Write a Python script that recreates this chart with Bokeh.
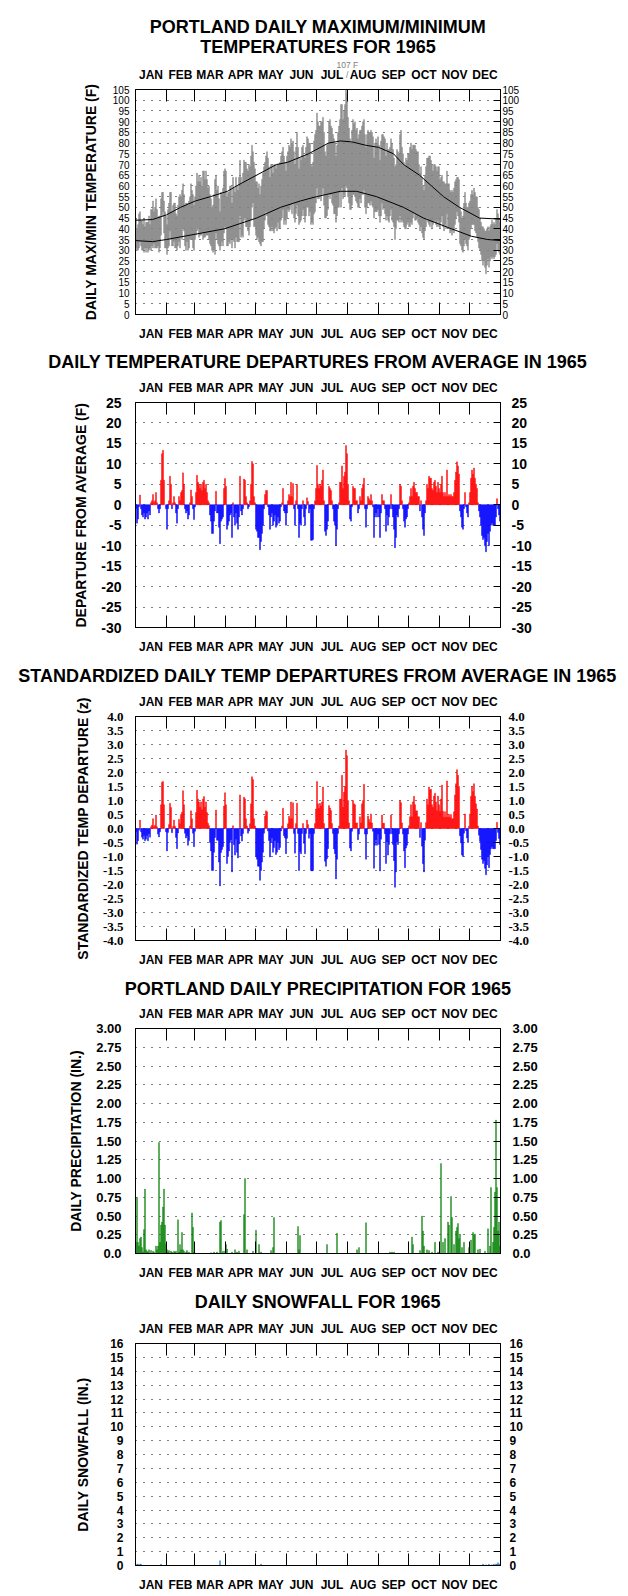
import numpy as np
from bokeh.plotting import figure
from bokeh.models import FixedTicker, LinearAxis, Range1d, ColumnDataSource, Grid, Title
from bokeh.layouts import column
from bokeh.embed import file_html
from bokeh.resources import INLINE

# ---------------- data ----------------
MONTHS = ["JAN", "FEB", "MAR", "APR", "MAY", "JUN", "JUL", "AUG", "SEP", "OCT", "NOV", "DEC"]
MONTH_LENGTHS = [31, 28, 31, 30, 31, 30, 31, 31, 30, 31, 30, 31]

TMAX_JAN = [45, 40, 42, 47, 48, 44, 44, 42, 45, 41, 43, 43, 43, 46, 42, 49, 49, 53, 48, 50, 54, 49, 45, 46, 46, 54, 57, 57, 53, 48, 46]
TMAX_FEB = [42, 49, 52, 57, 57, 48, 51, 52, 52, 47, 46, 51, 55, 56, 55, 58, 61, 56, 51, 52, 52, 51, 53, 55, 61, 58, 56, 51]
TMAX_MAR = [55, 60, 66, 62, 65, 62, 64, 60, 67, 67, 63, 67, 63, 59, 60, 56, 54, 50, 51, 56, 63, 65, 58, 60, 54, 48, 57, 56, 59, 67, 68]
TMAX_APR = [67, 55, 57, 57, 60, 60, 52, 64, 59, 57, 64, 60, 58, 64, 72, 64, 61, 66, 72, 71, 71, 68, 67, 70, 69, 74, 79, 76, 71, 68]
TMAX_MAY = [62, 62, 59, 61, 56, 60, 63, 66, 69, 71, 74, 76, 73, 69, 64, 70, 70, 66, 70, 70, 68, 70, 70, 70, 71, 74, 76, 78, 74, 71, 67]
TMAX_JUN = [74, 76, 79, 78, 82, 80, 81, 76, 70, 78, 85, 78, 68, 73, 72, 78, 79, 74, 73, 78, 83, 82, 80, 80, 70, 69, 71, 81, 84, 86]
TMAX_JUL = [94, 90, 88, 88, 90, 90, 92, 85, 76, 74, 79, 80, 90, 91, 88, 87, 84, 82, 80, 74, 79, 85, 88, 91, 98, 98, 91, 95, 98, 107, 103]
TMAX_AUG = [92, 87, 82, 80, 86, 91, 89, 90, 86, 87, 82, 84, 86, 86, 88, 90, 91, 84, 78, 84, 86, 85, 85, 86, 85, 83, 73, 80, 82, 80, 83]
TMAX_SEP = [79, 72, 81, 84, 84, 83, 82, 74, 80, 77, 77, 78, 82, 80, 77, 73, 69, 70, 77, 76, 75, 84, 86, 78, 75, 71, 69, 73, 72, 75]
TMAX_OCT = [75, 78, 80, 77, 79, 79, 79, 77, 76, 76, 70, 66, 69, 64, 60, 58, 65, 69, 73, 73, 74, 74, 72, 70, 67, 70, 70, 69, 67, 69, 69]
TMAX_NOV = [63, 64, 65, 62, 62, 61, 61, 67, 61, 61, 58, 57, 58, 57, 59, 62, 63, 64, 64, 63, 50, 48, 45, 46, 52, 57, 52, 50, 50, 52]
TMAX_DEC = [53, 56, 58, 56, 59, 57, 55, 55, 50, 49, 45, 43, 41, 41, 40, 39, 39, 40, 41, 39, 41, 42, 44, 42, 43, 42, 45, 49, 47, 45, 43]

TMIN_JAN = [31, 30, 30, 31, 34, 32, 30, 30, 29, 31, 29, 31, 29, 30, 31, 30, 32, 31, 33, 31, 31, 31, 32, 29, 31, 37, 46, 48, 38, 31, 31]
TMIN_FEB = [28, 31, 32, 39, 35, 32, 32, 34, 31, 31, 30, 32, 34, 31, 36, 35, 40, 39, 32, 30, 34, 30, 31, 35, 35, 35, 31, 30]
TMIN_MAR = [35, 37, 39, 40, 36, 37, 37, 38, 35, 36, 36, 37, 37, 37, 35, 33, 32, 30, 29, 30, 28, 38, 35, 33, 32, 30, 32, 34, 32, 38, 41]
TMIN_APR = [40, 32, 32, 34, 33, 35, 31, 35, 34, 31, 36, 34, 34, 34, 46, 36, 37, 36, 44, 45, 41, 41, 39, 37, 41, 44, 50, 52, 41, 41]
TMIN_MAY = [37, 35, 36, 34, 33, 32, 34, 34, 40, 44, 48, 46, 42, 41, 39, 39, 41, 39, 38, 40, 41, 39, 43, 40, 40, 44, 45, 49, 42, 44, 42]
TMIN_JUN = [45, 49, 48, 49, 51, 47, 52, 45, 43, 47, 51, 46, 42, 43, 44, 46, 49, 46, 43, 46, 50, 50, 46, 48, 42, 43, 42, 47, 48, 52]
TMIN_JUL = [59, 54, 54, 56, 53, 56, 59, 51, 45, 45, 46, 49, 56, 54, 56, 52, 51, 47, 47, 43, 46, 50, 50, 57, 50, 59, 54, 56, 55, 60, 59]
TMIN_AUG = [55, 52, 49, 49, 51, 56, 56, 55, 53, 52, 50, 50, 54, 52, 56, 56, 58, 50, 47, 50, 52, 52, 51, 53, 51, 50, 45, 48, 48, 48, 49]
TMIN_SEP = [46, 43, 46, 52, 49, 50, 47, 44, 46, 44, 43, 46, 49, 44, 43, 41, 35, 40, 44, 44, 43, 46, 43, 44, 43, 41, 40, 40, 42, 43]
TMIN_OCT = [41, 41, 43, 42, 45, 47, 44, 44, 45, 43, 42, 39, 41, 38, 36, 35, 39, 41, 45, 43, 42, 41, 43, 40, 42, 43, 44, 42, 41, 44, 41]
TMIN_NOV = [40, 43, 46, 41, 39, 42, 40, 47, 40, 41, 38, 39, 37, 39, 38, 42, 45, 48, 46, 43, 33, 32, 30, 29, 32, 35, 33, 32, 30, 35]
TMIN_DEC = [36, 40, 42, 42, 42, 39, 38, 36, 34, 31, 30, 28, 25, 23, 25, 22, 19, 23, 26, 22, 25, 27, 26, 27, 26, 27, 28, 33, 30, 29, 28]

NORMAL_MAX_DAYS = [0, 17, 31, 45, 60, 75, 92, 101, 121, 141, 152, 173, 193, 205, 217, 230, 243, 258, 268, 284, 296, 308, 324, 344, 365]
NORMAL_MAX = [44, 44.3, 46.5, 50, 53, 55, 57.5, 60, 65, 70, 71, 75, 80, 81, 80.5, 79, 78, 75, 70, 65, 60, 55, 50, 45, 44.5]
NORMAL_MIN_DAYS = [0, 17, 31, 60, 89, 121, 145, 165, 181, 205, 221, 241, 268, 288, 316, 336, 352, 365]
NORMAL_MIN = [34.5, 34, 35, 37.5, 40, 45, 50, 53, 55, 57.5, 57.5, 55, 50, 45, 40, 36.5, 35, 34.5]

DEP_JAN = [-1, -4.5, -3.5, -0.5, 2.4, -1, -2.5, -3, -2, -3.5, -3, -2, -3.5, -1.5, -2.5, 0.5, 1, 2.5, 0.5, 1, 3, 0.5, -1, -2, -1, 6, 12.5, 13.3, 6, 0, -1]
DEP_FEB = [-6, -1, 1, 7, 5, -1, 0.5, 2, 0.5, -2, -4.5, -1, 2, 1, 3, 3.5, 7.8, 5, -1, -2, -1.5, -3.5, -2.5, 0.5, 3.6, 2, -1, -3.6]
DEP_MAR = [-0.5, 3, 7.2, 5.5, 5, 4, 5, 3.5, 5.5, 6, 4, 5, 3, 1, 0.5, -2.5, -4, -7, -7, -4, -1.5, 3.3, -2, -2, -5.5, -9.5, -4, -3.5, -3, 4, 6.4]
DEP_APR = [4.5, -6, -5, -4, -2.5, -2, -8, 0.5, -3, -5, -2, -4.5, -6, -3, 7, -1.5, -2.5, -1, 6.3, 6, 2, 0.5, -1, -0.5, 1, 5, 10.6, 10, 2, 0.5]
DEP_MAY = [-6, -6.5, -8, -8, -11, -9, -7, -5, -1, 2.5, 3.5, 3.5, -0.5, -2.5, -6, -3, -2, -5, -4, -2.5, -5.5, -5, -3, -4.5, -4, -0.5, 0.5, 4, -1.5, -2, -5]
DEP_JUN = [-2, 1, 2.5, 2, 5.5, 2, 5.2, -1, -5, 1, 5, -1, -8, -4.6, -5, -1, 1, -3, -5, -1, 1.7, 0.8, -2, -1, -8.7, -8.7, -8.5, -1, 1, 4]
DEP_JUL = [9.6, 5, 4, 5, 4.5, 6, 8.5, 1, -6.5, -7.5, -6, -4, 4.5, 4, 3.5, 1, -1, -4, -5, -10, -6, -1, 0.5, 5.5, 5.5, 9.5, 4, 7, 8, 14.5, 12.5]
DEP_AUG = [5, 1, -3.5, -4, -0.5, 4.5, 4, 4, 1, 1, -2, -1, 2, 1, 4, 5, 6.5, -1, -5.5, -1, 2, 1.5, 1, 2.5, 1, -0.5, -8, -3, -2, -3, -1]
DEP_SEP = [-3, -8, -2, 2.5, 1, 1, -1, -6.5, -2.5, -5, -3, -1, 2.5, -1, -3, -6, -10.5, -8, -2.5, -3, -1, 5, 4.5, 1, -1, -4, -5.5, -3.5, -3, -1]
DEP_OCT = [0.5, 2, 4, 2, 4.5, 5.5, 4, 3, 3, 2, 2, -1.5, 1, -3, -6, -7.5, -2, 1, 5, 4, 7, 6.5, 6.5, 4, 3.5, 5.5, 6, 4.5, 3, 5.5, 4]
DEP_NOV = [3, 5, 7, 3, 2, 3, 2, 8.5, 2, 2.5, 2, 2.5, 2, 2, 3, 6, 8, 10.5, 9.5, 7.5, -1.5, -3, -5.5, -6, -1, 3, -0.5, -2, -3, 0.5]
DEP_DEC = [3, 6.5, 8.5, 7.5, 9, 6.5, 5, 4, 0.5, -1.5, -3, -5, -7.5, -8.5, -8, -10, -11.5, -9, -7, -10, -6.5, -5, -4.5, -5, -5, -5, -3, 1.5, -1, -2.5, -4]

Z_JAN = [-0.12, -0.56, -0.44, -0.06, 0.3, -0.12, -0.31, -0.38, -0.25, -0.44, -0.38, -0.25, -0.44, -0.19, -0.31, 0.06, 0.12, 0.35, 0.06, 0.12, 0.48, 0.06, -0.2, -0.3, -0.12, 0.85, 1.65, 1.68, 0.85, 0, -0.12]
Z_FEB = [-0.8, -0.14, 0.14, 0.9, 0.75, -0.15, 0.07, 0.3, 0.08, -0.32, -0.72, -0.16, 0.33, 0.17, 0.5, 0.58, 1.35, 0.85, -0.17, -0.34, -0.26, -0.6, -0.43, 0.09, 0.63, 0.35, -0.17, -0.65]
Z_MAR = [-0.1, 0.57, 1.37, 1.05, 0.95, 0.76, 0.95, 0.67, 1.05, 1.14, 0.76, 0.95, 0.57, 0.19, 0.1, -0.5, -0.8, -1.5, -1.5, -0.85, -0.32, 0.66, -0.42, -0.42, -1.2, -2.05, -0.86, -0.75, -0.65, 0.8, 1.28]
Z_APR = [0.85, -1.25, -1.0, -0.8, -0.5, -0.4, -1.55, 0.1, -0.58, -0.95, -0.38, -0.85, -1.05, -0.55, 1.2, -0.27, -0.45, -0.18, 1.12, 1.06, 0.35, 0.09, -0.17, -0.09, 0.17, 0.88, 1.85, 1.75, 0.35, 0.09]
Z_MAY = [-1.0, -1.1, -1.35, -1.35, -1.85, -1.5, -1.2, -0.85, -0.17, 0.45, 0.63, 0.6, -0.09, -0.43, -1.02, -0.5, -0.34, -0.85, -0.68, -0.43, -0.93, -0.85, -0.5, -0.76, -0.68, -0.09, 0.09, 0.72, -0.26, -0.34, -0.9]
Z_JUN = [-0.35, 0.17, 0.44, 0.35, 0.95, 0.35, 0.92, -0.18, -0.88, 0.18, 0.9, -0.18, -1.5, -0.82, -0.9, -0.18, 0.18, -0.53, -0.9, -0.18, 0.3, 0.14, -0.35, -0.18, -1.5, -1.52, -1.5, -0.18, 0.18, 0.7]
Z_JUL = [1.68, 0.88, 0.72, 0.9, 0.8, 0.95, 1.48, 0.18, -1.17, -1.35, -1.08, -0.72, 0.82, 0.73, 0.64, 0.18, -0.18, -0.73, -0.9, -1.8, -1.1, -0.18, 0.09, 1.05, 1.05, 1.9, 0.76, 1.3, 1.5, 2.8, 2.6]
Z_AUG = [1.0, 0.2, -0.7, -0.8, -0.1, 1.0, 0.88, 0.85, 0.2, 0.2, -0.4, -0.2, 0.42, 0.2, 0.88, 1.0, 1.58, -0.2, -1.1, -0.2, 0.45, 0.33, 0.22, 0.52, 0.2, -0.1, -1.42, -0.6, -0.4, -0.6, -0.2]
Z_SEP = [-0.57, -1.52, -0.38, 0.48, 0.19, 0.19, -0.19, -1.25, -0.48, -0.95, -0.57, -0.19, 0.48, -0.19, -0.57, -1.15, -2.1, -1.55, -0.48, -0.57, -0.19, 1.0, 0.92, 0.2, -0.2, -0.8, -1.4, -0.7, -0.6, -0.2]
Z_OCT = [0.1, 0.42, 0.85, 0.42, 0.95, 1.15, 0.85, 0.63, 0.63, 0.42, 0.42, -0.32, 0.21, -0.63, -1.26, -1.55, -0.42, 0.21, 1.05, 0.85, 1.48, 1.38, 1.4, 0.85, 0.75, 1.16, 1.26, 0.95, 0.63, 1.16, 0.85]
Z_NOV = [0.62, 1.05, 1.55, 0.62, 0.4, 0.6, 0.4, 1.7, 0.4, 0.5, 0.4, 0.5, 0.35, 0.35, 0.6, 1.2, 1.6, 2.1, 1.9, 1.5, -0.26, -0.52, -0.95, -1.0, -0.17, 0.52, -0.08, -0.34, -0.5, 0.08]
Z_DEC = [0.52, 1.15, 1.5, 1.32, 1.6, 1.15, 0.88, 0.7, 0.09, -0.24, -0.46, -0.75, -1.1, -1.25, -1.15, -1.42, -1.65, -1.3, -1.0, -1.4, -0.93, -0.72, -0.65, -0.72, -0.72, -0.72, -0.43, 0.22, -0.14, -0.36, -0.57]

PRECIP_DAYS = [0, 1, 2, 3, 4, 5, 6, 7, 8, 9, 10, 11, 12, 13, 15, 17, 18, 20, 21, 22, 23, 24, 25, 26, 27, 28, 29, 30,
               31, 32, 33, 35, 36, 38, 39, 40, 42, 43, 44, 45, 46, 47, 48, 50, 51, 53, 56, 57, 58,
               75, 78, 81, 84, 85, 87, 89, 90, 91, 96, 99, 101, 103, 108, 109, 111, 117, 120, 123, 125,
               135, 137, 138, 162, 163, 164, 191, 201, 221, 223, 230, 254, 256, 258,
               276, 277, 284, 286, 287, 288, 291, 293, 296, 299, 302, 305, 307, 309, 312, 313, 315, 316,
               318, 320, 321, 322, 323, 324, 326, 328, 333, 335, 337, 338, 339, 342, 344, 349, 352, 354,
               355, 357, 358, 359, 360, 361, 362, 363, 364]
PRECIP_IN = [0.15, 0.75, 0.15, 0.10, 0.20, 0.22, 0.08, 0.02, 0.32, 0.86, 0.05, 0.03, 0.02, 0.05, 0.04, 0.03, 0.02, 0.10, 0.05, 0.10, 1.48, 0.15, 0.38, 0.42, 0.62, 0.86, 0.38, 0.12,
             0.05, 0.02, 0.04, 0.03, 0.02, 0.03, 0.02, 0.03, 0.45, 0.02, 0.12, 0.05, 0.28, 0.05, 0.03, 0.02, 0.04, 0.02, 0.54, 0.35, 0.02,
             0.01, 0.02, 0.02, 0.42, 0.44, 0.03, 0.03, 0.12, 0.06, 0.02, 0.05, 0.02, 0.03, 0.52, 1.00, 0.05, 0.03, 0.31, 0.12, 0.02,
             0.04, 0.08, 0.48, 0.36, 0.05, 0.24, 0.12, 0.27, 0.05, 0.08, 0.41, 0.02, 0.02, 0.02,
             0.22, 0.12, 0.04, 0.50, 0.30, 0.10, 0.05, 0.04, 0.02, 0.15, 0.02, 1.20, 0.15, 0.20, 0.42, 0.38, 0.76, 0.48,
             0.12, 0.30, 0.35, 0.40, 0.20, 0.26, 0.08, 0.15, 0.08, 0.18, 0.28, 0.25, 0.26, 0.05, 0.06, 0.03, 0.33, 0.10,
             0.88, 0.15, 0.35, 0.82, 1.78, 0.88, 0.30, 0.42, 0.10]

SNOW_DAYS = [1, 2, 4, 5, 25, 84, 125, 347, 350, 353, 356, 358, 360, 361, 362, 363, 364]
SNOW_IN = [0.1, 0.1, 0.1, 0.1, 0.1, 0.35, 0.1, 0.1, 0.05, 0.1, 0.05, 0.1, 0.1, 0.1, 0.2, 0.1, 0.1]

TEMP_TICKS = [0, 5, 10, 15, 20, 25, 30, 35, 40, 45, 50, 55, 60, 65, 70, 75, 80, 85, 90, 95, 100, 105]
TEMP_LABELS = ["0", "5", "10", "15", "20", "25", "30", "35", "40", "45", "50", "55", "60", "65", "70", "75", "80", "85", "90", "95", "100", "105"]
DEP_TICKS = [-30, -25, -20, -15, -10, -5, 0, 5, 10, 15, 20, 25]
DEP_LABELS = ["-30", "-25", "-20", "-15", "-10", "-5", "0", "5", "10", "15", "20", "25"]
Z_TICKS = [-4.0, -3.5, -3.0, -2.5, -2.0, -1.5, -1.0, -0.5, 0.0, 0.5, 1.0, 1.5, 2.0, 2.5, 3.0, 3.5, 4.0]
Z_LABELS = ["-4.0", "-3.5", "-3.0", "-2.5", "-2.0", "-1.5", "-1.0", "-0.5", "0.0", "0.5", "1.0", "1.5", "2.0", "2.5", "3.0", "3.5", "4.0"]
PRECIP_TICKS = [0.0, 0.25, 0.5, 0.75, 1.0, 1.25, 1.5, 1.75, 2.0, 2.25, 2.5, 2.75, 3.0]
PRECIP_LABELS = ["0.0", "0.25", "0.50", "0.75", "1.00", "1.25", "1.50", "1.75", "2.00", "2.25", "2.50", "2.75", "3.00"]
SNOW_TICKS = [0, 1, 2, 3, 4, 5, 6, 7, 8, 9, 10, 11, 12, 13, 14, 15, 16]
SNOW_LABELS = ["0", "1", "2", "3", "4", "5", "6", "7", "8", "9", "10", "11", "12", "13", "14", "15", "16"]

TMAX = TMAX_JAN + TMAX_FEB + TMAX_MAR + TMAX_APR + TMAX_MAY + TMAX_JUN + TMAX_JUL + TMAX_AUG + TMAX_SEP + TMAX_OCT + TMAX_NOV + TMAX_DEC
TMIN = TMIN_JAN + TMIN_FEB + TMIN_MAR + TMIN_APR + TMIN_MAY + TMIN_JUN + TMIN_JUL + TMIN_AUG + TMIN_SEP + TMIN_OCT + TMIN_NOV + TMIN_DEC
DEPARTURE = DEP_JAN + DEP_FEB + DEP_MAR + DEP_APR + DEP_MAY + DEP_JUN + DEP_JUL + DEP_AUG + DEP_SEP + DEP_OCT + DEP_NOV + DEP_DEC
ZSCORE = Z_JAN + Z_FEB + Z_MAR + Z_APR + Z_MAY + Z_JUN + Z_JUL + Z_AUG + Z_SEP + Z_OCT + Z_NOV + Z_DEC

# ---------------- layout helpers ----------------
FONT = "Liberation Sans"
FRAME_H = 225
W = 628
LEFT_B = 135
RIGHT_B = 128
FRAME_W = W - LEFT_B - RIGHT_B
NDAYS = sum(MONTH_LENGTHS)
PX_PER_DAY = FRAME_W / NDAYS

cum = np.cumsum(MONTH_LENGTHS)
month_bounds = [float(v) for v in cum[:-1]]
month_mids = [float(c - n / 2.0) for c, n in zip(cum, MONTH_LENGTHS)]
month_over = {m: name for m, name in zip(month_mids, MONTHS)}
day_centers = [d + 0.5 for d in range(NDAYS)]


def month_axis(standoff):
    return LinearAxis(ticker=FixedTicker(ticks=month_mids, minor_ticks=month_bounds),
                      major_label_overrides=month_over,
                      major_tick_in=0, major_tick_out=0,
                      minor_tick_in=12, minor_tick_out=0,
                      minor_tick_line_color="black",
                      major_label_standoff=standoff,
                      major_label_text_font=FONT, major_label_text_font_size="12px",
                      major_label_text_font_style="bold", major_label_text_color="black",
                      axis_line_color="black")


def title(text, standoff):
    return Title(text=text, align="center", text_font=FONT, text_font_size="18px",
                 text_font_style="bold", text_color="black", standoff=standoff)


def make_panel(title_lines, title_standoffs, y0, y1, ticks, labels, ylabel, top_b, bot_b,
               tick_font, tick_size, tick_style, lstand, rstand, als, extra_above=()):
    p = figure(width=W, height=top_b + FRAME_H + bot_b,
               x_range=Range1d(0, NDAYS), y_range=Range1d(y0, y1),
               output_backend="svg", toolbar_location=None,
               x_axis_location=None, y_axis_location=None,
               min_border_left=LEFT_B, min_border_right=RIGHT_B,
               min_border_top=top_b, min_border_bottom=bot_b,
               title=None)
    p.grid.visible = False
    p.outline_line_color = "black"
    p.outline_line_width = 1
    p.background_fill_color = "white"
    p.border_fill_color = "white"

    p.add_layout(month_axis(8), "above")
    for extra in extra_above:
        p.add_layout(extra, "above")
    p.add_layout(month_axis(12), "below")
    # titles: nearest line first
    for text, st in zip(reversed(title_lines), reversed(title_standoffs)):
        p.add_layout(title(text, st), "above")

    over = {float(t): l for t, l in zip(ticks, labels)}
    left = LinearAxis(ticker=FixedTicker(ticks=ticks, minor_ticks=[]), major_label_overrides=over,
                      major_tick_in=0, major_tick_out=0, minor_tick_in=0, minor_tick_out=0,
                      major_label_standoff=lstand,
                      major_label_text_font=tick_font, major_label_text_font_size=tick_size,
                      major_label_text_font_style=tick_style, major_label_text_color="black",
                      axis_line_color="black",
                      axis_label=ylabel, axis_label_standoff=als,
                      axis_label_text_font=FONT, axis_label_text_font_size="14px",
                      axis_label_text_font_style="bold", axis_label_text_color="black")
    right = LinearAxis(ticker=FixedTicker(ticks=ticks, minor_ticks=[]), major_label_overrides=over,
                       major_tick_in=7, major_tick_out=0, minor_tick_in=0, minor_tick_out=0,
                       major_tick_line_color="black",
                       major_label_standoff=rstand,
                       major_label_text_font=tick_font, major_label_text_font_size=tick_size,
                       major_label_text_font_style=tick_style, major_label_text_color="black",
                       axis_line_color="black")
    p.add_layout(left, "left")
    p.add_layout(right, "right")
    p.add_layout(Grid(dimension=1, ticker=FixedTicker(ticks=ticks[1:-1]),
                      grid_line_color="black", grid_line_dash="1 7", grid_line_width=1))
    return p


def bars(p, xs, top, color, bottom=0, width=1.0):
    p.vbar(x=xs, bottom=bottom, top=top, width=width, fill_color=color,
           line_color=color, line_width=0.4)


def split_bars(p, values, pos_color, neg_color):
    xs = np.array(day_centers)
    v = np.array(values, dtype=float)
    pos = v > 0
    neg = v < 0
    bars(p, xs[pos], v[pos], pos_color)
    bars(p, xs[neg], v[neg], neg_color)


# ---------------- panel 1: max/min ----------------
imax = int(np.argmax(TMAX))
PEAK_SIZE = 8.5
# three-line block (blank top line) centred on the month-label row: peak value, then leader
peak_text = "\u00a0\n" + f"{TMAX[imax]} F\n" + "\u00a0" * 4 + "/"
peak_h = 3 * PEAK_SIZE * 1.2
peak_note = Title(text=peak_text, align="left",
                  offset=(imax + 0.5) * PX_PER_DAY - 9.5,
                  text_font=FONT, text_font_size=f"{PEAK_SIZE}px", text_font_style="normal",
                  text_color="#808080", standoff=-peak_h)
p1 = make_panel(["PORTLAND DAILY MAXIMUM/MINIMUM", "TEMPERATURES FOR 1965"], [-19, 14], 0, 105,
                TEMP_TICKS, TEMP_LABELS, "DAILY MAX/MIN TEMPERATURE (F)", 89, 30,
                FONT, "10px", "normal", 6, 2, 11, extra_above=(peak_note,))
src1 = ColumnDataSource(dict(x=day_centers, top=TMAX, bottom=TMIN))
p1.vbar(x="x", top="top", bottom="bottom", width=1.0, source=src1,
        fill_color="#808080", line_color="#808080", line_width=0.3)
p1.line(NORMAL_MAX_DAYS, NORMAL_MAX, line_color="black", line_width=1)
p1.line(NORMAL_MIN_DAYS, NORMAL_MIN, line_color="black", line_width=1)

# ---------------- panel 2: departures ----------------
p2 = make_panel(["DAILY TEMPERATURE DEPARTURES FROM AVERAGE IN 1965"], [11], -30, 25,
                DEP_TICKS, DEP_LABELS, "DEPARTURE FROM AVERAGE (F)", 58, 30,
                FONT, "14px", "bold", 14, 11, 9)
split_bars(p2, DEPARTURE, "#ff0000", "#0000ff")

# ---------------- panel 3: standardized ----------------
p3 = make_panel(["STANDARDIZED DAILY TEMP DEPARTURES FROM AVERAGE IN 1965"], [12], -4, 4,
                Z_TICKS, Z_LABELS, "STANDARDIZED TEMP DEPARTURE (z)", 58, 30,
                "Liberation Serif", "13px", "bold", 12, 8, 9)
split_bars(p3, ZSCORE, "#ff0000", "#0000ff")

# ---------------- panel 4: precipitation ----------------
p4 = make_panel(["PORTLAND DAILY PRECIPITATION FOR 1965"], [10], 0, 3,
                PRECIP_TICKS, PRECIP_LABELS, "DAILY PRECIPITATION (IN.)", 58, 30,
                FONT, "13px", "bold", 14, 12, 9)
bars(p4, [d + 0.5 for d in PRECIP_DAYS], PRECIP_IN, "#008000", width=0.8)

# ---------------- panel 5: snowfall ----------------
p5 = make_panel(["DAILY SNOWFALL FOR 1965"], [13], 0, 16,
                SNOW_TICKS, SNOW_LABELS, "DAILY SNOWFALL (IN.)", 58, 28,
                FONT, "12px", "bold", 12, 9, 16)
bars(p5, [d + 0.5 for d in SNOW_DAYS], SNOW_IN, "#1f78c8", width=0.8)

layout = column(p1, p2, p3, p4, p5, spacing=0)
open("out.html", "w").write(file_html(layout, INLINE))
